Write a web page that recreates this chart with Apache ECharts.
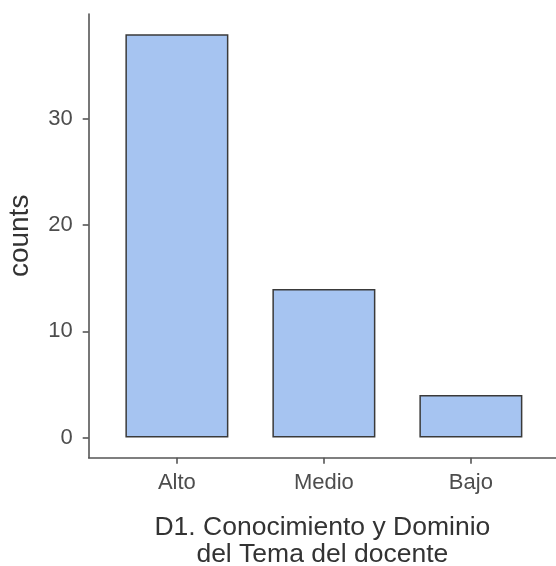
<!DOCTYPE html>
<html>
<head>
<meta charset="utf-8">
<script src="https://cdn.jsdelivr.net/npm/echarts@6/dist/echarts.min.js"></script>
<style>html,body{margin:0;padding:0;background:#fff;}#c{width:556px;height:566px;}</style>
</head>
<body>
<div id="c"></div>
<script>
const categories = ['Alto', 'Medio', 'Bajo'];
const counts = [38, 14, 4];
const yTicks = [0, 10, 20, 30];
const xTitle = 'D1. Conocimiento y Dominio\ndel Tema del docente';
const yTitle = 'counts';

const chart = echarts.init(document.getElementById('c'), null, {renderer: 'canvas'});
const FONT = 'Liberation Sans, Arial, sans-serif';
const axisColor = '#555555';
chart.setOption({
  animation: false,
  backgroundColor: '#ffffff',
  grid: {left: 88.7, top: 14, right: 0, bottom: 566 - 457.7, containLabel: false, outerBoundsMode: 'none'},
  xAxis: {
    type: 'value', min: 0.4, max: 3.579,
    splitLine: {show: false},
    axisLine: {onZero: false, lineStyle: {color: axisColor, width: 1.6}},
    axisTick: {show: true, customValues: [1, 2, 3], length: 6, lineStyle: {color: axisColor, width: 1.6}},
    axisLabel: {customValues: [1, 2, 3], formatter: v => categories[Math.round(v) - 1] || '',
      fontFamily: FONT, fontSize: 22, color: '#4d4d4d', margin: 14},
    name: xTitle, nameLocation: 'middle', nameGap: 56,
    nameTextStyle: {fontFamily: FONT, fontSize: 26.5, color: '#333333', lineHeight: 27}
  },
  yAxis: {
    type: 'value', min: -1.9, max: 39.9,
    splitLine: {show: false},
    axisLine: {show: true, onZero: false, lineStyle: {color: axisColor, width: 1.6}},
    axisTick: {show: true, customValues: yTicks, length: 6, lineStyle: {color: axisColor, width: 1.6}},
    axisLabel: {customValues: yTicks, fontFamily: FONT, fontSize: 22, color: '#4d4d4d', margin: 16},
    name: yTitle, nameLocation: 'middle', nameGap: 54, nameRotate: 90,
    nameTextStyle: {fontFamily: FONT, fontSize: 28, color: '#333333'}
  },
  series: [{
    type: 'bar',
    data: categories.map((c, i) => [i + 1, counts[i]]),
    barWidth: 103,
    itemStyle: {color: '#a6c4f1', borderColor: '#3a3a3a', borderWidth: 1.5}
  }]
});
</script>
</body>
</html>
